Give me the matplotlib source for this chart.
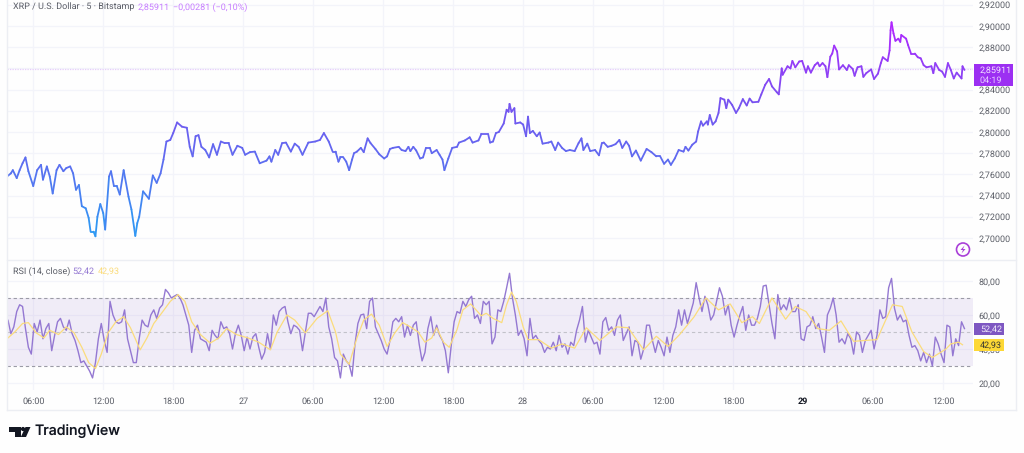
import numpy as np
import matplotlib
matplotlib.use('Agg')
import matplotlib.pyplot as plt
from matplotlib.collections import LineCollection
from matplotlib.colors import LinearSegmentedColormap
from matplotlib.lines import Line2D
from matplotlib.patches import Circle, Polygon, Rectangle
from matplotlib.transforms import IdentityTransform

plt.rcParams['font.family'] = ['Roboto', 'DejaVu Sans']
plt.rcParams['text.hinting'] = 'none'
plt.rcParams['text.hinting_factor'] = 1

# x unit is the 5 minute bar, counted from the left edge of the chart
price_bars = [0,4,6,10,13,16,19,22,27,31,35,37,41,44,47,51,54,58,61,65,68,71,74,77,81,84,86,89,91,93,96,99,101,105,107,110,113,116,120,125,128,132,134,136,140,146,150,154,158,161,164,168,171,175,180,185,188,191,194,197,200,204,208,212,216,220,224,228,232,237,242,245,250,255,260,267,270,272,276,279,283,287,292,296,300,304,310,317,322,326,331,335,338,341,
    343,346,349,352,355,357,360,364,367,371,374,379,383,388,391,394,397,403,406,410,413,415,418,421,425,428,431,435,437,442,445,448,450,454,458,463,465,471,476,479,485,488,495,497,500,503,506,511,514,516,517,519,522,523,528,531,534,536,538,541,545,548,551,557,560,564,567,571,575,579,584,588,591,593,597,600,605,609,612,614,618,622,626,630,633,637,640,643,647,652,658,663,668,672,676,680,683,687,691,
    696,698,701,705,709,711,714,716,720,721,723,726,729,732,734,738,740,742,746,750,753,757,761,764,767,773,776,780,784,787,792,794,797,798,803,806,808,811,815,818,822,824,827,831,834,836,839,842,844,847,849,851,854,856,860,864,866,870,872,875,879,881,884,889,892,896,899,901,906,908,909,910,912,914,917,919,920,925,927,930,934,937,940,943,946,951,953,955,959,962,965,968,971,974,977,982,983,985]
price_values = [2.758,2.761,2.764,2.7565,2.764,2.7705,2.776,2.763,2.749,2.764,2.769,2.755,2.7675,2.758,2.742,2.764,2.769,2.763,2.766,2.7675,2.761,2.7455,2.750,2.730,2.728,2.719,2.706,2.706,2.7016,2.720,2.732,2.7235,2.708,2.758,2.763,2.749,2.749,2.741,2.764,2.739,2.727,2.702,2.714,2.720,2.744,2.737,2.759,2.752,2.761,2.774,2.791,2.7925,2.799,2.809,2.805,2.804,2.786,2.777,2.796,2.797,2.786,2.783,2.776,2.7885,2.7785,2.791,2.7895,2.7895,2.7785,2.787,2.785,2.7785,2.781,2.7815,2.7705,2.773,2.777,2.772,2.783,2.7785,2.7895,2.790,2.7815,2.789,2.786,2.7785,2.790,2.791,2.7925,2.799,2.791,2.7815,2.7815,2.772,
    2.776,2.776,2.772,2.764,2.774,2.780,2.7815,2.785,2.781,2.794,2.7895,2.784,2.779,2.775,2.777,2.784,2.785,2.786,2.783,2.782,2.786,2.782,2.786,2.7825,2.775,2.776,2.785,2.785,2.780,2.783,2.7785,2.774,2.764,2.775,2.785,2.786,2.790,2.792,2.795,2.790,2.792,2.798,2.798,2.790,2.791,2.799,2.800,2.808,2.821,2.819,2.8265,2.819,2.8225,2.808,2.809,2.807,2.796,2.8145,2.799,2.801,2.796,2.7995,2.789,2.790,2.791,2.783,2.790,2.785,2.782,2.783,2.782,2.7895,2.794,2.783,2.789,2.782,2.783,2.778,2.7895,2.790,2.786,2.787,2.7885,2.7925,2.785,2.791,2.787,2.777,2.7825,2.773,2.784,2.781,2.777,2.777,2.770,2.774,2.769,2.775,2.783,
    2.7815,2.786,2.7825,2.788,2.791,2.8005,2.81,2.806,2.81,2.807,2.816,2.807,2.81,2.818,2.832,2.8305,2.8225,2.8305,2.8255,2.818,2.8225,2.831,2.825,2.8315,2.828,2.8285,2.8355,2.8445,2.850,2.843,2.8375,2.8355,2.860,2.854,2.862,2.860,2.867,2.861,2.8665,2.867,2.856,2.862,2.856,2.863,2.8655,2.862,2.865,2.862,2.8517,2.871,2.874,2.8815,2.876,2.859,2.863,2.8585,2.863,2.8595,2.853,2.861,2.862,2.852,2.8555,2.859,2.850,2.855,2.865,2.8705,2.867,2.877,2.896,2.9035,2.893,2.886,2.888,2.885,2.8915,2.888,2.882,2.874,2.874,2.8705,2.8695,2.863,2.861,2.862,2.8555,2.865,2.8585,2.857,2.852,2.865,2.8585,2.8505,2.856,2.8505,2.862,2.8585]
last_price = 2.85911

# RSI is read every 3 bars, ending on the last bar
rsi_values = [52,54,57,49,53,62,66,65,52,41,37,55,50,57,46,52,55,39,48,56,58,53,51,57,49,45,39,32,33,30,27,23,32,46,55,45,38,68,60,56,55,56,63,46,39,32,32,46,57,54,53,60,63,58,64,66,75,73,70,71,72,70,66,60,54,38,51,54,46,45,44,39,51,48,46,56,52,53,49,40,49,54,48,39,47,40,47,49,41,34,38,49,40,60,54,62,64,65,56,49,54,53,51,39,50,61,61,59,62,65,62,70,53,46,35,33,23,
    37,33,31,24,43,55,60,60.5,52,68,70,53,49,45,40,37,45,56,58,56,59,47,54,48,54,56,43,33,38,52,59,48,54,48,45,39,26,42,56,62,61,68,65,69,71,58,60,55,68,66,68,43,47,63,62,68,76,84.5,70,60,48,51,46,36,58,46,48,45,43,38,41,40,44,39,48,41,43,37,44,42,51,57,65,44,51,47,43,44,37,56,58.5,51,53,48,57,60,45,49,53,36,45,44,34,40,54,54,45,38,45,41,36,47,38,48,53,63,
    54,63,55,61,67,79,70,62,71,66,57,60,68,76,71,60,66,54,47,54,60,65,51,60,54,54,58,65,77,77.5,66,55,46,72,63,66,63,70,62,62,66,46,45,53,54,59,52,55,47,38,60,64,70,60,44,46,43,49,46,37,50,48,38,45,48,51,40,48,63,58,59,76,81.5,64,57,60,56,57,48,41,42,39,33,38,32,37,30,47,43,37,32,54,53,36,46,42,56,52]
rsi_ma_bars = [0,8,16,22,30,38,44,53,61,69,77,84,91,97,104,112,120,127,137,144,151,159,168,176,183,190,199,209,218,226,236,248,259,271,278,288,296,307,319,330,338,343,
    352,360,367,375,383,391,399,407,415,423,430,437,442,449,455,463,469,477,488,493,500,509,514,519,524,531,536,547,560,571,584,596,610,627,639,655,668,680,692,
    707,719,732,744,756,767,774,787,801,811,822,834,846,858,871,882,895,911,921,931,943,952,966,971,979,983]
rsi_ma_values = [46,50,55,55.5,49.5,46.5,51,48.5,53,49.5,41,32,28.5,37,49.5,56,59,52.5,39.5,46.5,55,61,68,72,68,56,48.5,43.5,46.5,52,48.5,46.5,44,39.5,50,60,57,49.5,58,62.5,50,37,
    31,46.5,57,60.5,54,41.5,49.5,55.5,53,50,44,46.5,52.5,44,41,51.5,63,66.5,59.5,61,58,55.5,66,73.5,68,53,45.5,45.5,40.5,43,40.5,52.5,45,53,52.5,39.5,47.5,41.5,48.5,
    59,70,63,66.5,55.5,59,55,70,57.5,65,62,52,51,56.5,44.5,45,45.5,66,65,50,38.5,35,40,43,44,42.5]
rsi_last = 52.42
rsi_ma_last = 42.93

tick_bars = [27 + 72 * k for k in range(14)]
tick_labels = ['06:00','12:00','18:00','27','06:00','12:00','18:00','28','06:00','12:00','18:00','29','06:00','12:00']
price_ticks = [2.70,2.72,2.74,2.76,2.78,2.80,2.82,2.84,2.86,2.88,2.90,2.92]
rsi_ticks = [20,40,60,80]

W, H = 1024, 453
GRID = '#f3f4fa'
EDGE = '#eceef3'
TXT = '#5a5d66'
PURPLE = '#9c2ff2'
RSI_C = '#9478d2'
MA_C = '#fbdc7c'
FS = 6.4


def comma(v, n):
    return f'{v:.{n}f}'.replace('.', ',')


def px_text(x, y, s, **kw):
    fig.text(x / W, 1 - y / H, s, va=kw.pop('va', 'center'), **kw)


fig = plt.figure(figsize=(W / 100, H / 100), dpi=100, facecolor='#fefefe')
ax = fig.add_axes([7 / W, 1 - 259 / H, 966 / W, 259 / H], facecolor='none')
ax2 = fig.add_axes([7 / W, 1 - 390 / H, 966 / W, 131 / H], facecolor='none')

for a in (ax, ax2):
    a.set_xlim(0, 993.8)
    a.set_xticks(tick_bars)
    a.grid(True, color=GRID, lw=0.9)
    a.set_axisbelow(True)
    for s in a.spines:
        a.spines[s].set_visible(False)
    a.yaxis.tick_right()
    a.tick_params(length=0, labelsize=FS, labelcolor=TXT, pad=4.2)

# price line, colour follows the price level
ax.set_ylim(2.6802, 2.9245)
ax.set_yticks(price_ticks)
ax.set_yticklabels([comma(v, 5) for v in price_ticks])
ax.tick_params(axis='x', labelbottom=False)
ax.axhline(last_price, color='#e6cdfb', lw=0.9, ls=(0, (1, 1)))

cmap = LinearSegmentedColormap.from_list('px', ['#2a9df4', '#5b6ff0', '#7a50f0', '#b026ff'])
pts = np.column_stack([price_bars, price_values])
segs = np.stack([pts[:-1], pts[1:]], axis=1)
lc = LineCollection(segs, cmap=cmap, lw=1.3, capstyle='round', joinstyle='round')
lc.set_array((pts[:-1, 1] + pts[1:, 1]) / 2)
lc.set_clim(2.70, 2.90)
ax.add_collection(lc)

# rsi pane
rsi_bars = 985 - 3 * np.arange(len(rsi_values))[::-1]
ax2.set_ylim(15.9, 92.9)
ax2.set_yticks(rsi_ticks)
ax2.set_yticklabels([comma(v, 2) for v in rsi_ticks])
ax2.set_xticklabels(tick_labels)
ax2.tick_params(axis='x', pad=5.5)
for lab in ax2.get_xticklabels():
    if lab.get_text() == '29':
        lab.set_fontweight('bold')
        lab.set_color('#131722')
ax2.axhspan(30, 70, color='#7e57c2', alpha=0.1, lw=0)
for lvl, col in ((70, '#9b9ba6'), (50, '#c2c2ca'), (30, '#9b9ba6')):
    ax2.axhline(lvl, color=col, lw=0.8, ls=(0, (3, 2.5)))
ax2.plot(rsi_bars, rsi_values, color=RSI_C, lw=1.0)
ax2.plot(rsi_ma_bars, rsi_ma_values, color=MA_C, lw=0.9)

# frame around the chart and price scale
for xs, ys in (([1016, 1016], [0, 410]), ([7, 1016], [410, 410]), ([7, 1016], [259.5, 259.5]), ([7, 7], [0, 410])):
    fig.add_artist(Line2D([x / W for x in xs], [1 - y / H for y in ys], color=EDGE, lw=1))

# legends
px_text(13, 7, 'XRP / U.S. Dollar · 5 · Bitstamp', fontsize=FS, color=TXT)
px_text(138, 7, comma(last_price, 5), fontsize=FS, color='#c77dff')
px_text(173, 7, '−0,00281 (−0,10%)', fontsize=FS, color='#c77dff')
px_text(13, 271, 'RSI (14, close)', fontsize=FS, color=TXT)
px_text(72, 271, comma(rsi_last, 2), fontsize=FS, color=RSI_C)
px_text(98, 271, comma(rsi_ma_last, 2), fontsize=FS, color=MA_C)

# last value labels on the scale
tr = IdentityTransform()


def tag(x0, y0, x1, y1, col):
    fig.add_artist(Rectangle((x0, H - y1), x1 - x0, y1 - y0, transform=tr, color=col, lw=0, zorder=5))


tag(974, 64, 1013, 86, PURPLE)
px_text(980, 70, comma(last_price, 5), fontsize=FS, color='#f3e6ff', zorder=6)
px_text(980, 80, '04:19', fontsize=FS, color='#e6ccff', zorder=6)
tag(974, 323, 1004, 335, '#7e57c2')
px_text(980, 329, comma(rsi_last, 2), fontsize=FS, color='#f0ebfa', zorder=6)
tag(974, 339, 1004, 351, '#fdd835')
px_text(980, 345, comma(rsi_ma_last, 2), fontsize=FS, color='#3a3a30', zorder=6)

# bolt button
fig.add_artist(Circle((963, H - 249.5), 6.5, transform=tr, fc='none', ec='#a93fd8', lw=1.2))
fig.add_artist(Polygon([(964.5, H - 245.5), (960.5, H - 250), (963, H - 250), (961.5, H - 253.5), (965.5, H - 249), (963, H - 249)],
                       transform=tr, fc='#a93fd8', lw=0))

# tradingview logo
LOGO = '#131722'
fig.add_artist(Polygon([(8.5, H - 427), (20.5, H - 427), (20.5, H - 437), (14.5, H - 437), (14.5, H - 431.5), (8.5, H - 431.5)],
                       transform=tr, fc=LOGO, lw=0))
fig.add_artist(Circle((23, H - 429), 2.1, transform=tr, fc=LOGO, lw=0))
fig.add_artist(Polygon([(25.5, H - 427), (30.5, H - 427), (26, H - 437), (20.8, H - 437)], transform=tr, fc=LOGO, lw=0))
px_text(35, 431.5, 'TradingView', fontsize=10.2, color=LOGO, fontweight='medium', family='Inter')

fig.savefig('out.png', dpi=100, facecolor=fig.get_facecolor())
